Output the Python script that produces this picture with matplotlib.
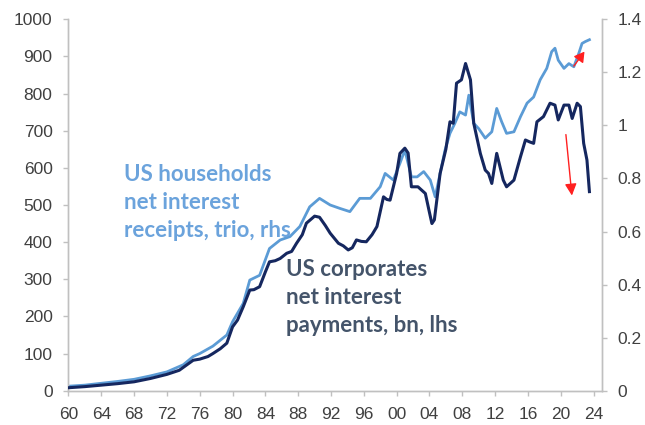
import matplotlib
matplotlib.use("Agg")
import matplotlib.pyplot as plt

# US corporates net interest payments, bn (left axis)
corp_years = [1960.0, 1962.0, 1964.0, 1966.0, 1968.0, 1970.0, 1972.0, 1973.5, 1975.2, 1976.0,
              1977.0, 1977.6, 1978.5, 1979.3, 1980.0, 1980.6, 1981.3, 1982.1, 1982.6, 1983.3,
              1984.0, 1984.5, 1985.2, 1985.8, 1986.6, 1987.2, 1987.8, 1988.5, 1989.0, 1990.0,
              1990.6, 1991.3, 1991.9, 1992.9, 1993.5, 1994.1, 1994.6, 1995.1, 1995.7, 1996.3,
              1997.0, 1997.6, 1998.4, 1998.8, 1999.2, 2000.0, 2000.4, 2001.0, 2001.4, 2001.8,
              2002.6, 2003.5, 2004.0, 2004.3, 2004.6, 2005.3, 2006.0, 2006.5, 2006.9, 2007.3,
              2007.9, 2008.4, 2009.0, 2009.4, 2010.2, 2010.8, 2011.2, 2011.6, 2012.2, 2012.6,
              2013.0, 2013.4, 2014.3, 2015.1, 2015.7, 2016.2, 2016.7, 2017.1, 2017.9, 2018.7,
              2019.3, 2019.7, 2020.4, 2021.0, 2021.4, 2022.0, 2022.4, 2022.8, 2023.2, 2023.5]
corp_payments = [8, 11, 15, 19, 24, 33, 44, 55, 82, 85,
                 92, 100, 113, 128, 172, 190, 226, 271, 272, 280,
                 320, 347, 350, 356, 370, 375, 397, 420, 451, 470,
                 467, 445, 424, 397, 390, 379, 385, 406, 402, 401,
                 420, 442, 522, 515, 513, 585, 639, 653, 640, 549,
                 549, 531, 480, 450, 460, 585, 650, 724, 720, 828,
                 837, 881, 837, 720, 639, 594, 585, 558, 639, 603,
                 567, 549, 567, 630, 675, 670, 666, 724, 738, 774,
                 769, 729, 769, 769, 733, 774, 765, 666, 621, 536]

# US households net interest receipts, trn (right axis)
hh_years = [1960.0, 1962.0, 1964.0, 1966.0, 1968.0, 1970.0, 1972.0, 1974.0, 1975.2, 1976.0,
            1977.6, 1979.3, 1980.0, 1981.3, 1982.1, 1983.3, 1984.5, 1985.8, 1987.0, 1988.2,
            1989.4, 1990.6, 1991.9, 1993.1, 1994.3, 1995.5, 1996.8, 1998.0, 1998.6, 1999.6,
            2000.4, 2001.0, 2001.8, 2002.5, 2003.3, 2004.1, 2004.7, 2005.3, 2005.9, 2006.5,
            2007.1, 2007.7, 2008.4, 2008.8, 2009.4, 2010.0, 2010.8, 2011.6, 2012.2, 2012.8,
            2013.4, 2014.3, 2015.1, 2015.9, 2016.7, 2017.5, 2018.3, 2018.9, 2019.3, 2019.7,
            2020.4, 2021.0, 2021.6, 2022.2, 2022.6, 2023.0, 2023.5]
hh_receipts = [0.017, 0.021, 0.028, 0.035, 0.043, 0.056, 0.071, 0.098, 0.129, 0.140,
               0.168, 0.210, 0.260, 0.329, 0.417, 0.435, 0.536, 0.568, 0.581, 0.619,
               0.693, 0.725, 0.700, 0.687, 0.675, 0.725, 0.725, 0.769, 0.819, 0.794,
               0.857, 0.907, 0.806, 0.806, 0.826, 0.794, 0.731, 0.819, 0.907, 0.970,
               1.008, 1.051, 1.039, 1.114, 1.008, 0.988, 0.952, 0.976, 1.064, 1.014,
               0.970, 0.976, 1.033, 1.084, 1.107, 1.172, 1.215, 1.278, 1.291, 1.246,
               1.215, 1.233, 1.221, 1.271, 1.309, 1.316, 1.323]

x_ticks = list(range(1960, 2025, 4))
x_tick_labels = [f"{y % 100:02d}" for y in x_ticks]
left_ticks = list(range(0, 1001, 100))
right_ticks = [0, 0.2, 0.4, 0.6, 0.8, 1.0, 1.2, 1.4]
right_tick_labels = ["0", "0.2", "0.4", "0.6", "0.8", "1", "1.2", "1.4"]

dark_blue = "#15275f"
light_blue = "#5b9bd5"
label_grey = "#44546a"
tick_grey = "#404040"
spine_grey = "#c0c0c0"

plt.rcParams["font.family"] = ["Liberation Sans", "DejaVu Sans"]

fig = plt.figure(figsize=(6.45, 4.25), dpi=100)
ax = fig.add_axes([0.1062, 0.0807, 0.8267, 0.8739])
ax2 = ax.twinx()

ax2.plot(hh_years, hh_receipts, color=light_blue, lw=2.0, zorder=2)
ax.plot(corp_years, corp_payments, color=dark_blue, lw=2.2, zorder=3)
ax.set_zorder(ax2.get_zorder() + 1)
ax.patch.set_visible(False)

ax.set_xlim(1960, 2025)
ax.set_ylim(0, 1000)
ax2.set_ylim(0, 1.4)

ax.set_xticks(x_ticks)
ax.set_xticklabels(x_tick_labels)
ax.set_yticks(left_ticks)
ax2.set_yticks(right_ticks)
ax2.set_yticklabels(right_tick_labels)

for a in (ax, ax2):
    a.spines["top"].set_visible(False)
    for s in ("left", "right", "bottom"):
        a.spines[s].set_color(spine_grey)
        a.spines[s].set_linewidth(1.0)
    a.tick_params(axis="both", colors=spine_grey, labelcolor=tick_grey,
                  labelsize=12.5, length=3.5, width=1.0, pad=8)

# red arrows marking the latest moves
ax.annotate("", xy=(2023.1, 919), xytext=(2021.4, 868),
            arrowprops=dict(arrowstyle="-|>,head_length=0.6,head_width=0.35",
                            color="#ff2020", lw=1.0), zorder=5)
ax.annotate("", xy=(2021.4, 518), xytext=(2020.6, 697),
            arrowprops=dict(arrowstyle="-|>,head_length=0.7,head_width=0.35",
                            color="#ff2020", lw=1.0), zorder=5)

label_font = dict(family=["Lato", "DejaVu Sans"], fontweight="bold", fontsize=16)
hh_lines = ["US households", "net interest", "receipts, trio, rhs"]
corp_lines = ["US corporates", "net interest", "payments, bn, lhs"]
for i, line in enumerate(hh_lines):
    fig.text(124 / 645, 1 - (180.7 + 28.3 * i) / 425, line, color="#6ba3dc",
             va="baseline", ha="left", **label_font)
for i, line in enumerate(corp_lines):
    fig.text(286 / 645, 1 - (275.7 + 28.3 * i) / 425, line, color=label_grey,
             va="baseline", ha="left", **label_font)

fig.savefig("out.png", dpi=100)
